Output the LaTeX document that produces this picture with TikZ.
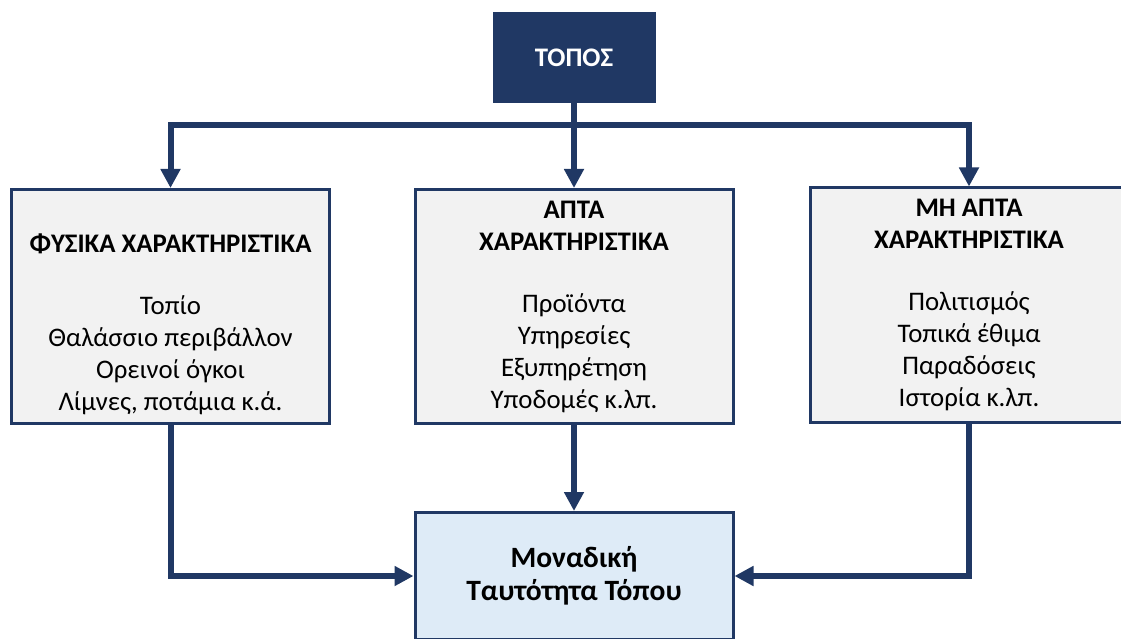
\documentclass[tikz,border=0pt]{standalone}
\usepackage{fontspec}
\setmainfont{Carlito}
\usetikzlibrary{arrows.meta}
\definecolor{navy}{RGB}{32,56,100}
\definecolor{boxgray}{RGB}{242,242,242}
\definecolor{boxblue}{RGB}{222,235,247}
\begin{document}
\begin{tikzpicture}[
    x=1pt, y=-1pt,
    boxnode/.style={rectangle, draw=navy, line width=3pt, fill=boxgray, minimum width=318pt, minimum height=234pt, inner sep=0pt, align=center, font=\fontsize{26.8}{32}\selectfont},
    topnode/.style={rectangle, fill=navy, minimum width=163pt, minimum height=91pt, text=white, font=\fontsize{26.8}{32}\selectfont\bfseries},
    endnode/.style={boxnode, fill=boxblue, minimum height=127pt, font=\fontsize{29.5}{33}\selectfont\bfseries},
    arr/.style={draw=navy, line width=6pt, -{Triangle[width=19pt,length=19pt]}}
]
\useasboundingbox (0,0) rectangle (1121,639);

\node[topnode](topos) at (574, 57.5) {ΤΟΠΟΣ};

\node[boxnode](fys) at (170.5, 306.5) {\strut\\\textbf{ΦΥΣΙΚΑ ΧΑΡΑΚΤΗΡΙΣΤΙΚΑ}\\[30pt]Τοπίο\\Θαλάσσιο περιβάλλον\\Ορεινοί όγκοι\\Λίμνες, ποτάμια κ.ά.};
\node[boxnode](apta) at (574, 306.5) {\textbf{ΑΠΤΑ}\\\textbf{ΧΑΡΑΚΤΗΡΙΣΤΙΚΑ}\\[30pt]Προϊόντα\\Υπηρεσίες\\Εξυπηρέτηση\\Υποδομές κ.λπ.};
\node[boxnode](mhapta) at (969, 305) {\textbf{ΜΗ ΑΠΤΑ}\\\textbf{ΧΑΡΑΚΤΗΡΙΣΤΙΚΑ}\\[30pt]Πολιτισμός\\Τοπικά έθιμα\\Παραδόσεις\\Ιστορία κ.λπ.};

\node[endnode](mon) at (574, 576) {Μοναδική\\Ταυτότητα Τόπου};

\coordinate (split) at (574, 125);

\draw[arr] (topos.south) -- (apta.north);
\draw[arr] (split) -| (fys.north);
\draw[arr] (split) -| (mhapta.north);
\draw[arr] (fys.south) |- (mon.west);
\draw[arr] (apta.south) -- (mon.north);
\draw[arr] (mhapta.south) |- (mon.east);
\end{tikzpicture}
\end{document}
